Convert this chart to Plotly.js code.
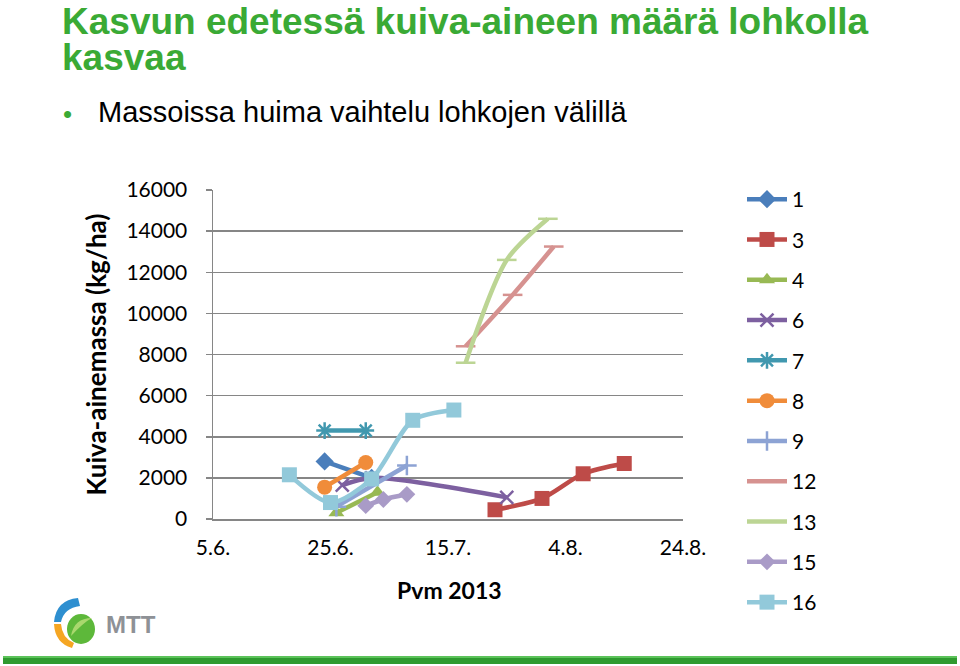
<!DOCTYPE html>
<html><head><meta charset="utf-8">
<script src="https://cdn.plot.ly/plotly-3.0.1.min.js"></script>
<style>html,body{margin:0;padding:0;background:#fff}#chart{width:960px;height:666px}</style>
</head><body><div id="chart"></div>
<script>
// ---- data ----
const names = ['1','3','4','6','7','8','9','12','13','15','16'];
const d1 = ['2013-06-24','2013-07-02'];           const v1 = [2800, 2000];
const d3 = ['2013-07-23','2013-07-31','2013-08-07','2013-08-14']; const v3 = [450, 1000, 2200, 2700];
const d4 = ['2013-06-26','2013-07-03'];           const v4 = [300, 1300];
const d6 = ['2013-06-27','2013-07-02','2013-07-25']; const v6 = [1650, 2000, 1050];
const d7 = ['2013-06-24','2013-07-01'];           const v7 = [4300, 4300];
const d8 = ['2013-06-24','2013-07-01'];           const v8 = [1550, 2750];
const d9 = ['2013-06-26','2013-07-08'];           const v9 = [600, 2600];
const d12 = ['2013-07-18','2013-07-26','2013-08-02']; const v12 = [8400, 10900, 13250];
const d13 = ['2013-07-18','2013-07-25','2013-08-01']; const v13 = [7600, 12600, 14600];
const d15 = ['2013-07-01','2013-07-04','2013-07-08']; const v15 = [650, 950, 1200];
const d16 = ['2013-06-18','2013-06-25','2013-07-02','2013-07-09','2013-07-16']; const v16 = [2150, 800, 1950, 4800, 5300];
const xTickVals = ['2013-06-05','2013-06-25','2013-07-15','2013-08-04','2013-08-24'];
const xTickText = ['5.6.','25.6.','15.7.','4.8.','24.8.'];
const yTickVals = [0,2000,4000,6000,8000,10000,12000,14000,16000];
const yTickText = ['0','2000','4000','6000','8000','10000','12000','14000','16000'];

const xs = [d1,d3,d4,d6,d7,d8,d9,d12,d13,d15,d16];
const ys = [v1,v3,v4,v6,v7,v8,v9,v12,v13,v15,v16];
const colors = ['#4A7EBB','#BE4B48','#98B954','#7D60A0','#4198AF','#F08C3A','#8DA3D4','#D69290','#BCD594','#A99BC7','#92C9DA'];
const symbols = ['diamond','square','triangle-up','x-thin','asterisk','circle','cross-thin','line-ew','line-ew','diamond','square'];
const msizes = [14,15,14,13,14,15,14,14,14,13,15];
const thin = {'x-thin':1,'asterisk':1,'cross-thin':1,'line-ew':1};

const FONT = 'Lato, Carlito, Calibri, sans-serif';
const ARIAL = '"Liberation Sans", Arial, sans-serif';
const traces = names.map((n,i)=>({
  type:'scatter', mode:'lines+markers', name:n, x:xs[i], y:ys[i],
  legendgroup:'g'+i,
  line:{color:colors[i], width:4.5, shape:'spline', smoothing:0.8},
  marker:{symbol:symbols[i], size:msizes[i], color:colors[i],
          line:{color:colors[i], width: thin[symbols[i]] ? 2.5 : 0}},
  cliponaxis:false
}));

// plot area in pixels
const L=213, R=683, T=190, B=519;
const px = x => (x-L)/(R-L);
const py = y => (B-y)/(B-T);

const layout = {
  width:960, height:666,
  margin:{l:L, r:960-R, t:T, b:666-B, pad:0},
  paper_bgcolor:'#fff', plot_bgcolor:'#fff',
  font:{family:FONT, size:21, color:'#000'},
  showlegend:true,
  legend:{x:px(742), y:py(179), xanchor:'left', yanchor:'top', font:{family:FONT,size:21,color:'#000'},
          tracegroupgap:10, bgcolor:'rgba(0,0,0,0)', itemwidth:40, maxheight:1},
  xaxis:{type:'date', range:['2013-06-05','2013-08-24'], tickvals:xTickVals, ticktext:xTickText,
         showgrid:false, zeroline:false, showline:true, linecolor:'#868686', linewidth:1.5,
         ticks:'', ticklabelstandoff:9, tickfont:{family:FONT,size:21}},
  yaxis:{range:[0,16000], tickvals:yTickVals, ticktext:yTickText, showgrid:true, gridcolor:'#868686', gridwidth:1.5,
         zeroline:false, showline:true, linecolor:'#868686', linewidth:1.5,
         ticks:'outside', ticklen:6, tickcolor:'#868686', tickwidth:1.5, ticklabelstandoff:14,
         tickfont:{family:FONT,size:21},
         title:{text:'<b>Kuiva-ainemassa (kg/ha)</b>', font:{family:FONT,size:26,color:'#000'}, standoff:12}},
  annotations:[
    {xref:'paper',yref:'paper',x:px(61),y:py(21.5),xanchor:'left',yanchor:'middle',showarrow:false,borderpad:0,
     text:'<b>Kasvun edetessä kuiva-aineen määrä lohkolla</b>',
     font:{family:ARIAL,size:37,color:'#3AAA35'}},
    {xref:'paper',yref:'paper',x:px(61),y:py(57),xanchor:'left',yanchor:'middle',showarrow:false,borderpad:0,
     text:'<b>kasvaa</b>',
     font:{family:ARIAL,size:37,color:'#3AAA35'}},
    {xref:'paper',yref:'paper',x:px(61),y:py(114),xanchor:'left',yanchor:'middle',showarrow:false,
     text:'•',font:{family:ARIAL,size:26,color:'#3AAA35'}},
    {xref:'paper',yref:'paper',x:px(96),y:py(112),xanchor:'left',yanchor:'middle',showarrow:false,
     text:'Massoissa huima vaihtelu lohkojen välillä',
     font:{family:ARIAL,size:29,color:'#000'}},
    {xref:'paper',yref:'paper',x:px(449),y:py(590),xanchor:'center',yanchor:'middle',showarrow:false,
     text:'<b>Pvm 2013</b>',font:{family:FONT,size:23,color:'#000'}},
    {xref:'paper',yref:'paper',x:px(104),y:py(624),xanchor:'left',yanchor:'middle',showarrow:false,
     text:'<b>MTT</b>',font:{family:ARIAL,size:24,color:'#8E9196'}}
  ],
  shapes:[
    // footer bar
    {type:'rect',xref:'paper',yref:'paper',x0:px(3),x1:px(957),y0:py(664),y1:py(656),fillcolor:'#2F9A2F',line:{width:0},layer:'above'},
    {type:'rect',xref:'paper',yref:'paper',x0:px(3),x1:px(957),y0:py(658),y1:py(656),fillcolor:'#5CC35A',line:{width:0},layer:'above'},
    // logo: blue arc, orange arc, green leaf
    {type:'path',xref:'paper',yref:'paper',layer:'above',line:{width:0},fillcolor:'#2E8FD0',
     path:`M ${px(54)} ${py(622)} Q ${px(56)} ${py(600)} ${px(78)} ${py(598)} L ${px(80)} ${py(606)} Q ${px(64)} ${py(608)} ${px(61)} ${py(622)} Z`},
    {type:'path',xref:'paper',yref:'paper',layer:'above',line:{width:0},fillcolor:'#F5A623',
     path:`M ${px(54)} ${py(624)} L ${px(61)} ${py(624)} Q ${px(62)} ${py(638)} ${px(74)} ${py(643)} L ${px(72)} ${py(648)} Q ${px(55)} ${py(643)} ${px(54)} ${py(624)} Z`},
    {type:'circle',xref:'paper',yref:'paper',layer:'above',line:{width:0},fillcolor:'#5DB83A',
     x0:px(67),x1:px(95),y0:py(644),y1:py(614)},
    {type:'path',xref:'paper',yref:'paper',layer:'above',line:{width:0},fillcolor:'#A9D86E',
     path:`M ${px(71)} ${py(636)} Q ${px(74)} ${py(618)} ${px(92)} ${py(618)} Q ${px(84)} ${py(622)} ${px(71)} ${py(636)} Z`}
  ]
};

Plotly.newPlot('chart', traces, layout, {staticPlot:true, displayModeBar:false});
</script></body></html>
